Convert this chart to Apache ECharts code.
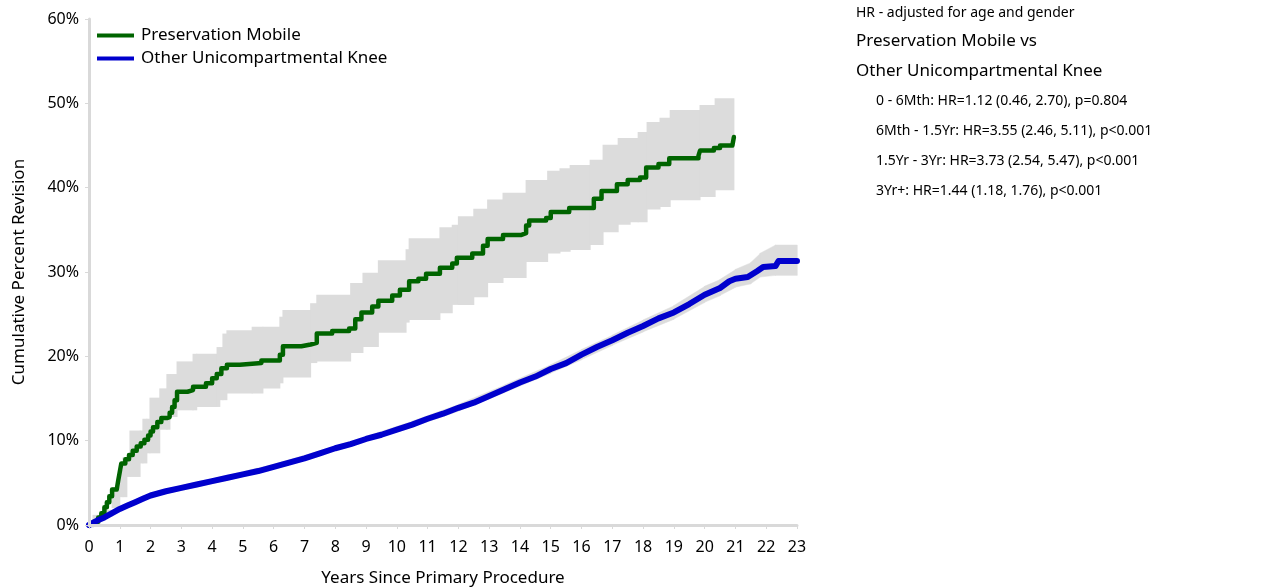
<!DOCTYPE html>
<html>
<head>
<meta charset="utf-8">
<script src="https://cdn.jsdelivr.net/npm/echarts@6/dist/echarts.min.js"></script>
<style>
html,body{margin:0;padding:0;background:#fff;}
#chart{width:1277px;height:587px;}
</style>
</head>
<body>
<div id="chart"></div>
<script>
// ---- Data (years, cumulative percent revision) ----
var seriesNames = ['Preservation Mobile', 'Other Unicompartmental Knee'];
var xTicks = [0,1,2,3,4,5,6,7,8,9,10,11,12,13,14,15,16,17,18,19,20,21,22,23];

var pmLine = [[0,0],[0.15,0.4],[0.3,0.9],[0.4,1.4],[0.5,2.1],[0.58,2.7],[0.66,3.4],[0.75,4.2],[0.9,4.4],[0.95,5.3],[1.0,6.3],[1.05,7.3],[1.18,7.8],[1.3,8.3],[1.42,8.8],[1.55,9.3],[1.68,9.7],[1.8,10.1],[1.92,10.6],[2.0,11.1],[2.08,11.6],[2.22,12.2],[2.35,12.7],[2.55,12.8],[2.62,13.3],[2.7,14.0],[2.78,14.8],[2.86,15.8],[3.2,16.0],[3.38,16.4],[3.8,16.8],[4.0,17.4],[4.15,17.9],[4.3,18.6],[4.48,19.0],[4.9,19.2],[5.6,19.5],[6.2,20.2],[6.3,21.2],[6.9,21.4],[7.2,21.6],[7.4,22.7],[7.9,23.0],[8.45,23.3],[8.65,24.4],[8.85,25.2],[9.2,25.9],[9.4,26.6],[9.85,27.2],[10.1,27.9],[10.4,28.9],[10.7,29.2],[10.95,29.8],[11.4,30.5],[11.8,31.0],[11.95,31.7],[12.45,32.2],[12.8,33.1],[12.95,33.9],[13.45,34.4],[14.05,34.6],[14.2,35.5],[14.3,36.1],[14.85,36.4],[15.0,37.1],[15.6,37.6],[16.4,38.7],[16.65,39.6],[17.15,40.4],[17.5,40.9],[17.9,41.2],[18.1,42.4],[18.5,42.8],[18.85,43.5],[19.8,43.8],[19.85,44.4],[20.3,44.7],[20.5,45.0],[20.9,45.1],[20.95,46.0]];

var pmBandX  = [0,0.13,0.36,0.45,0.75,1.0,1.1,1.23,1.33,1.66,1.75,1.88,1.98,2.3,2.53,2.63,2.86,3.38,3.5,4.16,4.25,4.35,4.48,5.3,5.65,6.2,6.3,7.2,7.4,8.5,8.9,9.4,10.3,10.4,11.4,11.8,12.0,12.5,12.95,13.45,14.2,14.9,15.3,15.63,16.28,16.7,17.19,17.58,17.84,18.13,18.55,18.88,19.85,20.34,20.95];
var pmBandLo = [0,0,0.6,1.0,2.0,3.3,3.3,5.7,5.7,7.3,7.3,8.5,8.5,11.3,11.3,12.8,13.6,13.6,14.0,14.0,14.8,14.8,15.6,15.6,16.2,16.8,17.5,19.2,19.4,20.4,21.1,22.8,24.0,24.3,25.1,26.1,26.1,27.0,28.7,29.3,31.2,32.2,32.4,32.6,33.2,34.7,35.6,35.9,35.9,37.4,37.7,38.5,38.9,39.7,39.7];
var pmBandHi = [0,1.2,1.5,1.8,4.5,6.5,8.0,8.0,11.2,11.2,12.6,12.6,15.1,16.2,17.9,17.9,19.4,20.3,20.3,21.1,21.1,22.7,23.1,23.5,23.5,24.7,25.5,26.3,27.3,28.7,29.9,31.4,32.7,34.0,35.3,35.6,36.6,37.5,38.6,39.4,40.9,42.0,42.3,42.7,43.3,45.1,45.9,45.9,46.6,47.8,48.3,49.2,49.8,50.6,51.8];

var oukLine = [[0,0],[0.25,0.5],[0.5,0.9],[0.75,1.4],[1,1.9],[1.25,2.3],[1.5,2.7],[1.75,3.1],[2,3.5],[2.5,4.0],[3,4.4],[3.5,4.8],[4,5.2],[4.5,5.6],[5,6.0],[5.5,6.4],[6,6.9],[6.5,7.4],[7,7.9],[7.5,8.5],[8,9.1],[8.5,9.6],[9,10.2],[9.5,10.7],[10,11.3],[10.5,11.9],[11,12.6],[11.5,13.2],[12,13.9],[12.5,14.5],[13,15.3],[13.5,16.1],[14,16.9],[14.5,17.6],[15,18.5],[15.5,19.2],[16,20.2],[16.5,21.1],[17,21.9],[17.5,22.8],[18,23.6],[18.5,24.5],[19,25.2],[19.5,26.2],[20,27.3],[20.5,28.1],[20.8,28.9],[21,29.2],[21.4,29.4],[21.7,30.1],[21.9,30.6],[22.3,30.7],[22.4,31.3],[23,31.3]];

var oukBandX  = [0,0.5,1,2,3,4.5,6,7.5,9,10.5,12,13.5,15,16,17,18,19,20,20.5,21,21.5,21.8,22.3,23];
var oukBandLo = [0,0.7,1.6,3.3,4.1,5.3,6.6,8.2,9.9,11.6,13.5,15.7,18.0,19.6,21.3,22.9,24.4,26.4,27.2,28.2,28.6,29.4,29.6,29.6];
var oukBandHi = [0,1.1,2.2,3.8,4.7,5.9,7.2,8.8,10.5,12.3,14.3,16.6,19.0,20.8,22.5,24.3,26.0,28.3,29.1,30.3,31.1,32.2,33.2,33.2];

var hrTitle = 'HR - adjusted for age and gender';
var hrCompare = ['Preservation Mobile vs', 'Other Unicompartmental Knee'];
var hrLines = [
  '0 - 6Mth: HR=1.12 (0.46, 2.70), p=0.804',
  '6Mth - 1.5Yr: HR=3.55 (2.46, 5.11), p<0.001',
  '1.5Yr - 3Yr: HR=3.73 (2.54, 5.47), p<0.001',
  '3Yr+: HR=1.44 (1.18, 1.76), p<0.001'
];

// ---- Build ----
var FONT = 'Noto Sans';
var GREEN = '#006400', BLUE = '#0000CD', BAND = '#dcdcdc', AXIS = '#d9d9d9';

// band rows: [x, lo, hi, xNext, loNext, hiNext]
function bandRows(xs, lo, hi){
  var rows = [];
  for (var i = 0; i < xs.length - 1; i++) rows.push([xs[i], lo[i], hi[i], xs[i+1], lo[i+1], hi[i+1]]);
  return rows;
}
// step-shaped band (value constant until next x)
function stepBandRender(params, api){
  var p0 = api.coord([api.value(0), api.value(2)]);
  var p1 = api.coord([api.value(3), api.value(1)]);
  var x0 = p0[0] - 0.5, x1 = p1[0] + 0.5;
  return {type:'rect', shape:{x:x0, y:p0[1], width:x1 - x0, height:p1[1] - p0[1]}, style:{fill:BAND}};
}
// smooth band (linear between points)
function linBandRender(params, api){
  var a = api.coord([api.value(0), api.value(1)]);
  var b = api.coord([api.value(0), api.value(2)]);
  var c = api.coord([api.value(3), api.value(5)]);
  var d = api.coord([api.value(3), api.value(4)]);
  return {type:'polygon', shape:{points:[[a[0]-0.3,a[1]],[b[0]-0.3,b[1]],[c[0]+0.3,c[1]],[d[0]+0.3,d[1]]]}, style:{fill:BAND, stroke:BAND, lineWidth:0.5}};
}

var graphics = [];
graphics.push({type:'text', left:856, top:6, style:{text:hrTitle, font:'14px "'+FONT+'"', fill:'#000'}});
graphics.push({type:'text', left:856, top:33, style:{text:hrCompare[0], font:'17px "'+FONT+'"', fill:'#000'}});
graphics.push({type:'text', left:856, top:63, style:{text:hrCompare[1], font:'17px "'+FONT+'"', fill:'#000'}});
hrLines.forEach(function(t,i){
  graphics.push({type:'text', left:876, top:94 + i*30, style:{text:t, font:'14px "'+FONT+'"', fill:'#000'}});
});

var chart = echarts.init(document.getElementById('chart'), null, {renderer:'canvas'});
chart.setOption({
  animation:false,
  textStyle:{fontFamily:FONT},
  grid:{left:89, right:480, top:19, bottom:62, containLabel:false, outerBoundsMode:'none'},
  legend:{
    data:seriesNames, orient:'vertical', left:92, top:22, itemGap:6,
    icon:'rect', itemWidth:37, itemHeight:4,
    textStyle:{fontSize:17, color:'#000', fontFamily:FONT, padding:[0,0,0,2]}
  },
  xAxis:{
    type:'value', min:0, max:23, interval:1,
    name:'Years Since Primary Procedure', nameLocation:'middle', nameGap:45,
    nameTextStyle:{fontSize:17, color:'#000'},
    axisLine:{lineStyle:{color:AXIS, width:3}},
    axisTick:{show:true, length:4, lineStyle:{color:AXIS}},
    axisLabel:{fontSize:16, color:'#000', margin:14,
      formatter:function(v){ return xTicks.indexOf(v) >= 0 ? String(v) : ''; }},
    splitLine:{show:false}, z:10
  },
  yAxis:{
    type:'value', min:0, max:60, interval:10,
    name:'Cumulative Percent Revision', nameLocation:'middle', nameGap:61,
    nameTextStyle:{fontSize:17, color:'#000'},
    axisLine:{show:true, lineStyle:{color:AXIS, width:3}},
    axisTick:{show:true, length:4, lineStyle:{color:AXIS}},
    axisLabel:{fontSize:16, color:'#000', margin:10, formatter:'{value}%'},
    splitLine:{show:false}, z:10
  },
  graphic:graphics,
  series:[
    {name:'pmBand', type:'custom', renderItem:stepBandRender, data:bandRows(pmBandX,pmBandLo,pmBandHi), encode:{x:[0,3], y:[1,2,4,5]}, silent:true, z:1},
    {name:'oukBand', type:'custom', renderItem:linBandRender, data:bandRows(oukBandX,oukBandLo,oukBandHi), encode:{x:[0,3], y:[1,2,4,5]}, silent:true, z:1},
    {name:seriesNames[0], type:'line', step:'end', data:pmLine, symbol:'none', color:GREEN, lineStyle:{color:GREEN, width:4.5, cap:'round', join:'round'}, z:5},
    {name:seriesNames[1], type:'line', data:oukLine, symbol:'none', color:BLUE, lineStyle:{color:BLUE, width:6, cap:'round', join:'round'}, z:5}
  ]
});
</script>
</body>
</html>
